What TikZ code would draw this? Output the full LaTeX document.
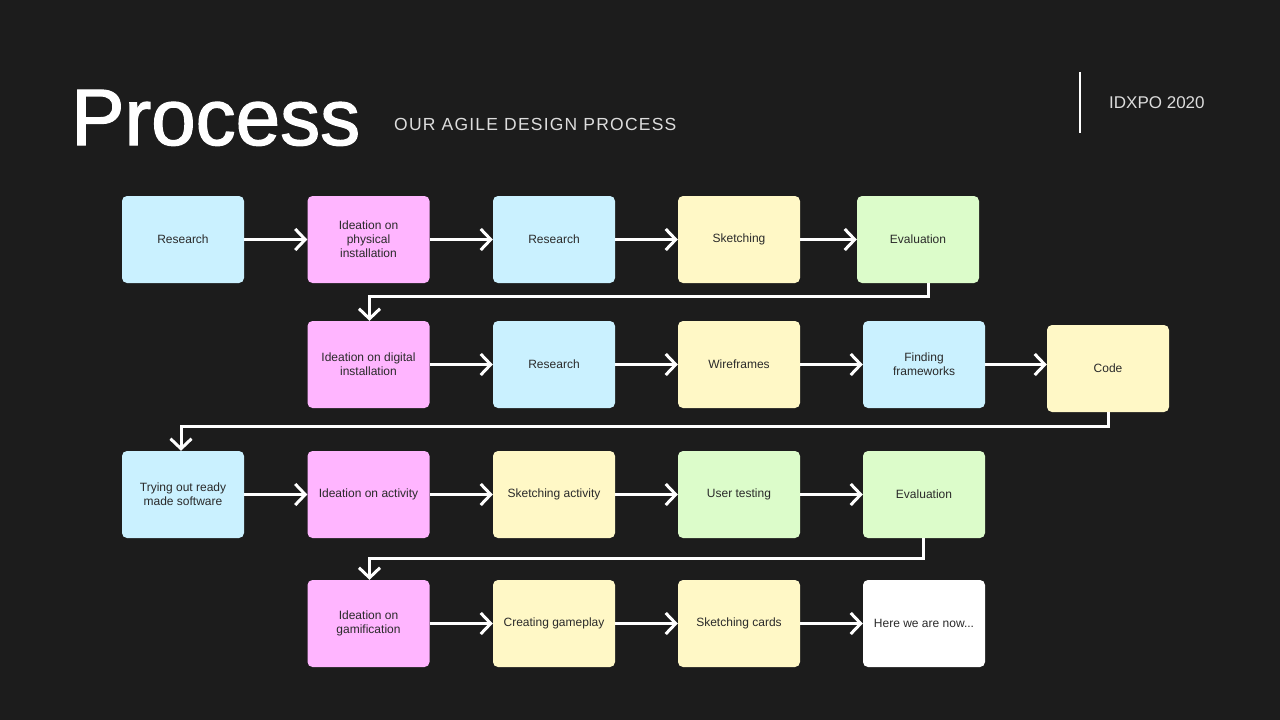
\documentclass[tikz,border=0pt]{standalone}
\usepackage{fontspec}
\setmainfont{Liberation Sans}
\newfontfamily\titlefont[FakeBold=1.6]{Liberation Sans}
\usetikzlibrary{arrows.meta}
\definecolor{bg}{HTML}{1C1C1C}
\definecolor{cblue}{HTML}{CAF1FF}
\definecolor{cpink}{HTML}{FFB5FF}
\definecolor{cyellow}{HTML}{FFF8C6}
\definecolor{cgreen}{HTML}{DCFCCA}
\definecolor{ctext}{HTML}{2A2A2A}
\definecolor{csub}{HTML}{DDDDDD}
\tikzset{
  card/.style={rounded corners=5pt, minimum width=122pt, minimum height=87pt,
    inner sep=0pt, align=center, text=ctext,
    font=\fontsize{12}{14}\selectfont},
  bluecard/.style={card, fill=cblue},
  pinkcard/.style={card, fill=cpink},
  yellowcard/.style={card, fill=cyellow},
  greencard/.style={card, fill=cgreen},
  whitecard/.style={card, fill=white},
  flow/.style={draw=white, line width=3pt,
    -{Straight Barb[length=10pt,width=21pt,line width=3pt]}},
}
\begin{document}
\begin{tikzpicture}[x=1pt,y=-1pt]
\fill[bg] (0,0) rectangle (1280,720);
\useasboundingbox (0,0) rectangle (1280,720);

\node[anchor=base west, text=white, inner sep=0pt, font=\titlefont\fontsize{80}{90}\selectfont] (title) at (71,145) {Process};
\node[anchor=base west, text=csub, inner sep=0pt, font=\fontsize{17.5}{20}\selectfont\addfontfeature{LetterSpace=7}] (sub) at (394,130) {OUR AGILE DESIGN PROCESS};
\coordinate (vt) at (1080,72);
\coordinate (vb) at (1080,133);
\draw[white, line width=2pt] (vt) -- (vb);
\node[anchor=base west, text=csub, inner sep=0pt, font=\fontsize{17}{20}\selectfont] (idx) at (1109,108) {IDXPO 2020};

% Row 1
\node[bluecard]   (r1) at (183,239.5) {Research};
\node[pinkcard]   (i1) at (368.5,239.5) {Ideation on\\physical\\installation};
\node[bluecard]   (r1b) at (554,239.5) {Research};
\node[yellowcard] (s1) at (739,239.5) {Sketching};
\node[greencard]  (e1) at (918,239.5) {Evaluation};

% Row 2
\node[pinkcard]   (i2) at (368.5,364.5) {Ideation on digital\\installation};
\node[bluecard]   (r2) at (554,364.5) {Research};
\node[yellowcard] (w2) at (739,364.5) {Wireframes};
\node[bluecard]   (f2) at (924,364.5) {Finding\\frameworks};
\node[yellowcard] (c2) at (1108,368.5) {Code};

% Row 3
\node[bluecard]   (t3) at (183,494.5) {Trying out ready\\made software};
\node[pinkcard]   (i3) at (368.5,494.5) {Ideation on activity};
\node[yellowcard] (s3) at (554,494.5) {Sketching activity};
\node[greencard]  (u3) at (739,494.5) {User testing};
\node[greencard]  (e3) at (924,494.5) {Evaluation};

% Row 4
\node[pinkcard]   (i4) at (368.5,623.5) {Ideation on\\gamification};
\node[yellowcard] (g4) at (554,623.5) {Creating gameplay};
\node[yellowcard] (k4) at (739,623.5) {Sketching cards};
\node[whitecard]  (h4) at (924,623.5) {Here we are now...};

% Horizontal flows
\draw[flow] (r1) -- (i1);
\draw[flow] (i1) -- (r1b);
\draw[flow] (r1b) -- (s1);
\draw[flow] (s1) -- (e1);

\draw[flow] (i2) -- (r2);
\draw[flow] (r2) -- (w2);
\draw[flow] (w2) -- (f2);
\draw[flow] (f2.east) -- (f2.east -| c2.west);

\draw[flow] (t3) -- (i3);
\draw[flow] (i3) -- (s3);
\draw[flow] (s3) -- (u3);
\draw[flow] (u3) -- (e3);

\draw[flow] (i4) -- (g4);
\draw[flow] (g4) -- (k4);
\draw[flow] (k4) -- (h4);

% Row transitions
\draw[flow] ([xshift=10pt]e1.south) -- ++(0,13) -| ([xshift=1pt]i2.north);
\draw[flow] (c2.south) -- ++(0,14) -| ([xshift=-2pt]t3.north);
\draw[flow] ([xshift=-1pt]e3.south) -- ++(0,20) -| ([xshift=1pt]i4.north);
\end{tikzpicture}
\end{document}
